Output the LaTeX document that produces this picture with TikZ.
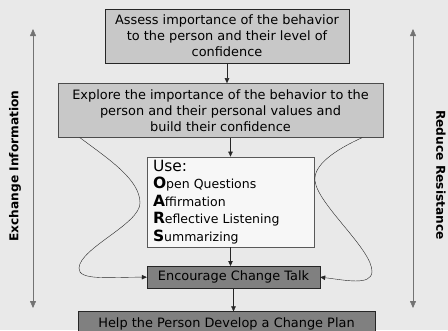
\documentclass[tikz,border=0pt]{standalone}
\usepackage{fontspec}
\setmainfont{DejaVu Sans}
\usetikzlibrary{arrows.meta, positioning}
\definecolor{BoxGray}{RGB}{200, 200, 200}
\definecolor{DarkGray}{RGB}{128, 128, 128}
\definecolor{PageGray}{RGB}{233, 233, 233}
\newcommand{\oars}[1]{{\fontsize{15.5}{17.5}\selectfont\bfseries #1}}

\begin{document}
\begin{tikzpicture}[x=1pt, y=-1pt, font=\fontsize{12.9}{16}\selectfont,
  bx/.style={draw=black!85, fill=BoxGray, align=center, inner sep=0pt},
  dk/.style={draw=black!85, fill=DarkGray, align=center, inner sep=0pt},
  ar/.style={-{Triangle[length=5pt, width=4.5pt]}, black!85},
  side/.style={{Triangle[length=7pt, width=6pt]}-{Triangle[length=7pt, width=6pt]}, black!55},
  lab/.style={font=\bfseries\fontsize{12.2}{14}\selectfont}]
\useasboundingbox (0,0) rectangle (448,330);
\fill[PageGray] (0,0) rectangle (448,330);
\clip (0,0) rectangle (448,330);

\node[bx, minimum width=244pt, minimum height=54pt] (a) at (227,36)
  {Assess importance of the behavior\\to the person and their level of\\confidence};
\node[bx, draw=black!70, minimum width=325pt, minimum height=54pt, below=20pt of a, xshift=-6.5pt] (b)
  {Explore the importance of the behavior to the\\person and their personal values and\\build their confidence};
\node[draw=black!65, fill=black!3, align=left, text width=155pt, inner xsep=6pt, inner ysep=0pt,
  minimum height=90pt, font=\fontsize{12.5}{17.5}\selectfont, below=19pt of b, xshift=10pt] (c)
  {\oars{\mdseries Use:}\\\oars{O}pen Questions\\\oars{A}ffirmation\\\oars{R}eflective Listening\\\oars{S}ummarizing};
\node[dk, minimum width=173pt, minimum height=22pt, below=19pt of c, xshift=3pt] (d) {Encourage Change Talk};
\node[dk, minimum width=297pt, minimum height=24pt, below=23pt of d, xshift=-7pt] (e) {Help the Person Develop a Change Plan};

\draw[ar] (a.south) -- (a.south |- b.north);
\draw[ar] (c.north |- b.south) -- (c.north);
\draw[ar] (c.south) -- (c.south |- d.north);
\draw[ar] (d.south) -- (d.south |- e.north);

% loops back into the talk box
\draw[ar] ([xshift=22pt]b.south west) .. controls (110,160) and (140,180) .. (140,203)
  .. controls (140,224) and (80,248) .. (79,268) .. controls (78,281) and (110,277) .. (d.west);
\draw[ar] ([xshift=-21pt]b.south east) .. controls (335,150) and (313,165) .. (315,181)
  .. controls (318,205) and (373,250) .. (372,272) .. controls (371,286) and (345,280) .. (d.east);

% side scales
\coordinate (ltop) at (33,29);
\coordinate (lbot) at (33,308);
\coordinate (rtop) at (413,29);
\coordinate (rbot) at (413,308);
\draw[side] (ltop) -- (lbot);
\draw[side] (rtop) -- (rbot);
\node[lab, rotate=90] (ex) at (15,166) {Exchange Information};
\node[lab, rotate=-90] (rr) at (441,175) {Reduce Resistance};
\end{tikzpicture}
\end{document}
